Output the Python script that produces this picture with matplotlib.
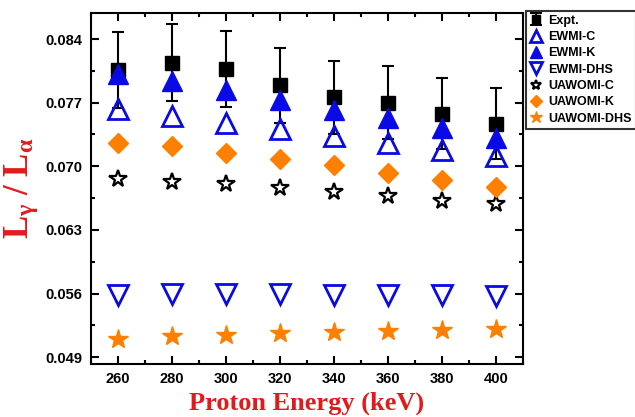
import numpy as np
import matplotlib
matplotlib.use('Agg')
import matplotlib.pyplot as plt
from matplotlib.ticker import AutoMinorLocator

# Proton energies (keV)
energy = np.array([260, 280, 300, 320, 340, 360, 380, 400])

# L_gamma / L_alpha ratios
expt = np.array([0.0806, 0.0814, 0.0807, 0.0789, 0.0776, 0.0770, 0.0758, 0.0747])
expt_err = np.array([0.0042, 0.0042, 0.0042, 0.0041, 0.0040, 0.0040, 0.0039, 0.0039])
ewmi_c = np.array([0.0763, 0.0755, 0.0748, 0.0741, 0.0733, 0.0726, 0.0718, 0.0711])
ewmi_k = np.array([0.0801, 0.0794, 0.0784, 0.0773, 0.0762, 0.0753, 0.0742, 0.0731])
ewmi_dhs = np.array([0.0559, 0.0560, 0.0560, 0.0560, 0.0559, 0.0559, 0.0558, 0.0557])
uawomi_c = np.array([0.0686, 0.0683, 0.0681, 0.0676, 0.0672, 0.0667, 0.0662, 0.0659])
uawomi_k = np.array([0.0726, 0.0722, 0.0715, 0.0708, 0.0701, 0.0693, 0.0685, 0.0677])
uawomi_dhs = np.array([0.0510, 0.0513, 0.0515, 0.0517, 0.0518, 0.0519, 0.0520, 0.0521])

yticks = [0.049, 0.056, 0.063, 0.070, 0.077, 0.084]
xticks = [260, 280, 300, 320, 340, 360, 380, 400]

blue = '#0a0ae6'
orange = '#ff8000'

plt.rcParams['mathtext.fontset'] = 'custom'
plt.rcParams['mathtext.rm'] = 'Liberation Serif:bold'
plt.rcParams['mathtext.it'] = 'Liberation Serif:bold'
plt.rcParams['mathtext.bf'] = 'Liberation Serif:bold'

fig = plt.figure(figsize=(6.35, 4.17), dpi=100)
ax = fig.add_axes([0.1433, 0.1271, 0.68, 0.8417])

handles = []
handles.append(ax.errorbar(energy, expt, yerr=expt_err, fmt='s', color='black', ms=10,
                           capsize=4, elinewidth=1.5, capthick=1.5, label='Expt.', zorder=2))
handles += ax.plot(energy, ewmi_c, '^', ms=14, mfc='none', mec=blue, mew=2,
                   ls='none', label='EWMI-C', zorder=3)
handles += ax.plot(energy, ewmi_k, '^', ms=14, color=blue, ls='none',
                   label='EWMI-K', zorder=3)
handles += ax.plot(energy, ewmi_dhs, 'v', ms=14, mfc='none', mec=blue, mew=2,
                   ls='none', label='EWMI-DHS', zorder=3)
handles += ax.plot(energy, uawomi_c, '*', ms=13, mfc='none', mec='black', mew=1.6,
                   ls='none', label='UAWOMI-C', zorder=3)
handles += ax.plot(energy, uawomi_k, 'D', ms=10, color=orange, ls='none',
                   label='UAWOMI-K', zorder=3)
handles += ax.plot(energy, uawomi_dhs, '*', ms=15, color=orange, ls='none',
                   label='UAWOMI-DHS', zorder=3)

ax.set_xlim(250, 410)
ax.set_ylim(0.04826, 0.08686)
ax.set_xticks(xticks)
ax.set_yticks(yticks)
ax.set_yticklabels(['%.3f' % v for v in yticks])
ax.xaxis.set_minor_locator(AutoMinorLocator(2))
ax.yaxis.set_minor_locator(AutoMinorLocator(2))
ax.tick_params(which='both', direction='in', top=True, right=True, width=1.5)
ax.tick_params(which='major', length=6, pad=6)
ax.tick_params(which='minor', length=3)
for lab in ax.get_xticklabels() + ax.get_yticklabels():
    lab.set_fontfamily('Liberation Sans')
    lab.set_fontweight('bold')
    lab.set_fontsize(10.5)
for sp in ax.spines.values():
    sp.set_linewidth(1.5)

ax.set_xlabel('Proton Energy (keV)', fontsize=19, fontweight='bold',
              fontfamily='Liberation Serif', color='#e31a1c', labelpad=4)
ax.set_ylabel(r'L$_\gamma$ / L$_\alpha$', fontsize=25, fontweight='bold',
              fontfamily='Liberation Serif', color='#e31a1c', labelpad=4)

leg = ax.legend(handles=handles, loc='upper left', bbox_to_anchor=(0.829, 0.974),
                bbox_transform=fig.transFigure, frameon=True, fancybox=False,
                markerscale=0.6, handlelength=1.0, handletextpad=0.45,
                labelspacing=0.35, borderpad=0.3, borderaxespad=0,
                prop={'family': 'Liberation Sans', 'weight': 'bold', 'size': 9})
leg.get_frame().set_edgecolor('black')
leg.get_frame().set_linewidth(1.5)

fig.savefig('out.png', dpi=100)
